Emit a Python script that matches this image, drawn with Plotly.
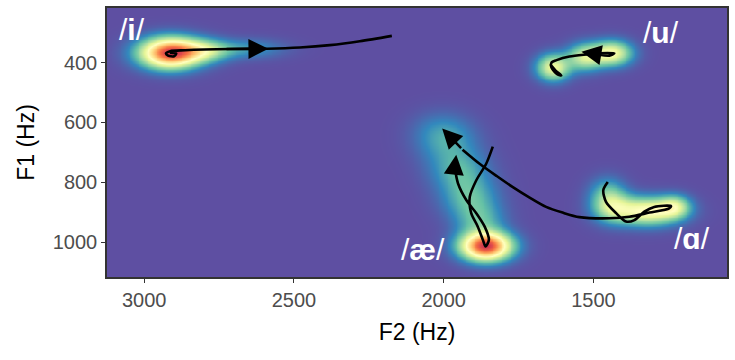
import numpy as np
import plotly.graph_objects as go

# ---- trajectories (F2, F1 in Hz) ----
i_f2 = [2914, 2893, 2900, 2920, 2927, 2913, 2863, 2713, 2590, 2480, 2380, 2280, 2173]
i_f1 = [367, 370, 379, 377, 369, 362, 359, 355, 354, 350, 342, 329, 311]
i_arrow_tip = (2585, 354)
i_arrow_tail = (2730, 355)

u_f2 = [1643, 1627, 1607, 1620, 1640, 1640, 1623, 1580, 1523, 1480, 1430, 1447, 1480]
u_f1 = [407, 426, 443, 440, 417, 400, 392, 380, 373, 369, 369, 377, 374]
u_tip = (1540, 364)

ae_f2 = [1836, 1858, 1891, 1913, 1908, 1886, 1869, 1860, 1849, 1863, 1891, 1924, 1952, 1963]
ae_f1 = [681, 738, 793, 849, 903, 948, 992, 1014, 992, 948, 903, 860, 804, 749]
ae_tip = (1958, 708)

a_f2 = [1452, 1467, 1458, 1424, 1391, 1363, 1330, 1297, 1241, 1247, 1313, 1380, 1447,
        1547, 1603, 1658, 1713, 1769, 1823, 1880, 1937]
a_f1 = [799, 826, 865, 903, 931, 926, 898, 882, 879, 887, 901, 915, 920,
        916, 901, 882, 851, 816, 779, 738, 691]
a_tip = (2005, 620)

# ---- density blobs: F2, F1, amplitude, spread F2, spread F1 ----
blob_f2 = [2915, 2800, 2650, 1440, 1530, 1635, 1860, 1880, 1915, 1950, 1990, 2010,
           1320, 1440, 1230, 1455]
blob_f1 = [366, 358, 352, 367, 380, 415, 1012, 930, 850, 760, 670, 620,
           895, 880, 880, 830]
blob_amp = [0.88, 0.3, 0.12, 0.45, 0.35, 0.42, 0.9, 0.17, 0.18, 0.16, 0.12, 0.07,
            0.5, 0.3, 0.3, 0.15]
blob_sx = [68, 60, 80, 45, 40, 38, 57, 55, 62, 65, 68, 65, 72, 45, 35, 40]
blob_sy = [34, 25, 22, 28, 30, 30, 32, 42, 48, 48, 48, 42, 31, 35, 25, 35]

# ---- labels ----
lab_letter = ["i", "u", "æ", "ɑ"]
lab_f2 = [3040, 1273, 2070, 1170]
lab_f1 = [289, 301, 1025, 988]

x_range = [3124, 1054]
y_range = [1116, 218]

gx = np.arange(1030, 3150, 6.0)
gy = np.arange(200, 1135, 5.0)
X, Y = np.meshgrid(gx, gy)
Z = np.zeros_like(X)
for cx, cy, a, sx, sy in zip(blob_f2, blob_f1, blob_amp, blob_sx, blob_sy):
    Z += a * np.exp(-((X - cx) ** 2 / (2 * sx ** 2) + (Y - cy) ** 2 / (2 * sy ** 2)))
Z = np.clip(Z, 0, 1)

spectral_r = [
    [0.0, "#5E4FA2"], [0.1, "#3288BD"], [0.2, "#66C2A5"], [0.3, "#ABDDA4"],
    [0.4, "#E6F598"], [0.5, "#FFFFBF"], [0.6, "#FEE08B"], [0.7, "#FDAE61"],
    [0.8, "#F46D43"], [0.9, "#D53E4F"], [1.0, "#9E0142"],
]

fig = go.Figure()
fig.add_trace(go.Heatmap(x=gx, y=gy, z=Z, colorscale=spectral_r, zmin=0, zmax=1,
                         showscale=False, zsmooth="best", hoverinfo="skip"))

for xs, ys in [(i_f2, i_f1), (u_f2, u_f1), (ae_f2, ae_f1), (a_f2, a_f1)]:
    fig.add_trace(go.Scatter(x=xs, y=ys, mode="lines",
                             line=dict(color="black", width=2.6, shape="spline", smoothing=0.8),
                             hoverinfo="skip", showlegend=False))

arrows = [
    (i_arrow_tip, i_arrow_tail),
    (u_tip, (u_f2[-1], u_f1[-1])),
    (ae_tip, (ae_f2[-1], ae_f1[-1])),
    (a_tip, (a_f2[-1], a_f1[-1])),
]
for tip, tail in arrows:
    fig.add_annotation(x=tip[0], y=tip[1], ax=tail[0], ay=tail[1], xref="x", yref="y",
                       axref="x", ayref="y", showarrow=True, arrowhead=2, arrowsize=1.6,
                       arrowwidth=2.5, arrowcolor="black", standoff=0, text="")

for t, x, y in zip(lab_letter, lab_f2, lab_f1):
    fig.add_annotation(x=x, y=y, text="/<b>%s</b>/" % t, showarrow=False, xref="x", yref="y",
                       font=dict(family="Liberation Sans, Arial, sans-serif", size=30, color="white"))

axis_common = dict(showgrid=False, zeroline=False, showline=True, mirror=True,
                   linecolor="#333333", linewidth=1.5, ticks="outside", ticklen=4,
                   tickcolor="#333333", tickwidth=1.2,
                   tickfont=dict(family="Liberation Sans, Arial, sans-serif", size=20, color="#4D4D4D"))

fig.update_xaxes(range=x_range, tickvals=[3000, 2500, 2000, 1500],
                 title=dict(text="F2 (Hz)", standoff=14,
                            font=dict(family="Liberation Sans, Arial, sans-serif", size=23, color="black")),
                 **axis_common)
fig.update_yaxes(range=y_range, tickvals=[400, 600, 800, 1000],
                 title=dict(text="F1 (Hz)", standoff=12,
                            font=dict(family="Liberation Sans, Arial, sans-serif", size=23, color="black")),
                 **axis_common)

fig.update_layout(width=735, height=360, margin=dict(l=107, r=6, t=6, b=83),
                  paper_bgcolor="white", plot_bgcolor="#5E4FA2", showlegend=False)

fig.write_html("out.html")
